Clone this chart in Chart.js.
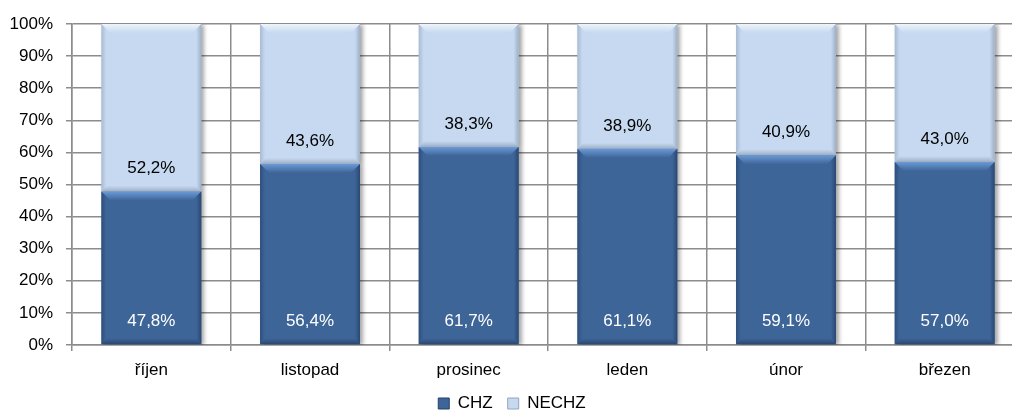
<!DOCTYPE html>
<html>
<head>
<meta charset="utf-8">
<script src="https://cdn.jsdelivr.net/npm/chart.js@4.4.1/dist/chart.umd.min.js"></script>
<style>
html,body{margin:0;padding:0;overflow:hidden;background:#fff;height:412px;}
</style>
</head>
<body>
<canvas id="graf-chz" width="1024" height="422"></canvas>
<script>
// data
const mesice = ['říjen', 'listopad', 'prosinec', 'leden', 'únor', 'březen'];
const chz = [47.8, 56.4, 61.7, 61.1, 59.1, 57.0];
const nechz = [52.2, 43.6, 38.3, 38.9, 40.9, 43.0];
const osaY = [0, 10, 20, 30, 40, 50, 60, 70, 80, 90, 100];

const FONT = '"Liberation Sans", Arial, sans-serif';
const FS = 17;

// barvy: telo, svetla hrana, tmava hrana, barva popisku
const styly = [
    {fill: '#3e6598', light: '#6b9ad6', dark: '#24406a', text: '#ffffff'},
    {fill: '#c6d9f0', light: '#eef4fb', dark: '#93a6bd', text: '#000000'}
];

function fmt(v){ return v.toFixed(1).replace('.', ',') + '%'; }

// stin + zkosene hrany sloupcu
const bevelPlugin = {
    id: 'bevel',
    beforeDatasetsDraw(chart){
        const ctx = chart.ctx;
        ctx.save();
        ctx.shadowColor = 'rgba(0,0,0,0.35)';
        ctx.shadowBlur = 4;
        ctx.shadowOffsetX = 3;
        ctx.shadowOffsetY = 1;
    },
    afterDatasetsDraw(chart){
        const ctx = chart.ctx;
        ctx.restore();
        chart.data.datasets.forEach((ds, di) => {
            const st = styly[di];
            chart.getDatasetMeta(di).data.forEach(el => {
                const w = el.width;
                const l = el.x - w / 2, r = el.x + w / 2;
                const t = Math.min(el.y, el.base), b = Math.max(el.y, el.base);
                const bv = 9;
                ctx.save();
                // horni hrana
                let g = ctx.createLinearGradient(0, t, 0, t + bv);
                g.addColorStop(0, st.light);
                g.addColorStop(1, st.fill);
                ctx.fillStyle = g;
                ctx.beginPath();
                ctx.moveTo(l, t); ctx.lineTo(r, t); ctx.lineTo(r - bv, t + bv); ctx.lineTo(l + bv, t + bv);
                ctx.closePath(); ctx.fill();
                // leva hrana
                g = ctx.createLinearGradient(l, 0, l + 5, 0);
                g.addColorStop(0, st.dark);
                g.addColorStop(1, st.fill);
                ctx.fillStyle = g;
                ctx.globalAlpha = 0.6;
                ctx.beginPath();
                ctx.moveTo(l, t); ctx.lineTo(l + 5, t + 5); ctx.lineTo(l + 5, b - 5); ctx.lineTo(l, b);
                ctx.closePath(); ctx.fill();
                // prava hrana
                g = ctx.createLinearGradient(r, 0, r - 5, 0);
                g.addColorStop(0, st.dark);
                g.addColorStop(1, st.fill);
                ctx.fillStyle = g;
                ctx.globalAlpha = 0.8;
                ctx.beginPath();
                ctx.moveTo(r, t); ctx.lineTo(r - 5, t + 5); ctx.lineTo(r - 5, b - 5); ctx.lineTo(r, b);
                ctx.closePath(); ctx.fill();
                // spodni hrana
                g = ctx.createLinearGradient(0, b, 0, b - 6);
                g.addColorStop(0, st.dark);
                g.addColorStop(1, st.fill);
                ctx.fillStyle = g;
                ctx.globalAlpha = 0.8;
                ctx.beginPath();
                ctx.moveTo(l, b); ctx.lineTo(r, b); ctx.lineTo(r - 6, b - 6); ctx.lineTo(l + 6, b - 6);
                ctx.closePath(); ctx.fill();
                ctx.restore();
            });
        });
        // popisky hodnot u paty segmentu
        ctx.save();
        ctx.font = FS + 'px ' + FONT;
        ctx.textAlign = 'center';
        ctx.textBaseline = 'middle';
        chart.data.datasets.forEach((ds, di) => {
            ctx.fillStyle = styly[di].text;
            chart.getDatasetMeta(di).data.forEach((el, i) => {
                ctx.fillText(fmt(ds.data[i]), el.x, el.base - 23);
            });
        });
        ctx.restore();
    }
};

new Chart(document.getElementById('graf-chz'), {
    type: 'bar',
    data: {
        labels: mesice,
        datasets: [
            {label: 'CHZ', data: chz, backgroundColor: styly[0].fill, borderWidth: 0},
            {label: 'NECHZ', data: nechz, backgroundColor: styly[1].fill, borderWidth: 0}
        ]
    },
    options: {
        responsive: false,
        animation: false,
        devicePixelRatio: 1,
        layout: {padding: {left: 0, top: 24, right: 0, bottom: 0}},
        datasets: {bar: {categoryPercentage: 1, barPercentage: 0.63}},
        plugins: {
            tooltip: {enabled: false},
            legend: {
                position: 'bottom',
                labels: {
                    boxWidth: 11,
                    boxHeight: 11,
                    padding: 15,
                    color: '#000',
                    font: {family: FONT, size: FS},
                    generateLabels(chart){
                        return chart.data.datasets.map((ds, i) => ({
                            text: ds.label,
                            fillStyle: styly[i].fill,
                            strokeStyle: styly[i].dark,
                            lineWidth: 1,
                            datasetIndex: i
                        }));
                    }
                }
            }
        },
        scales: {
            x: {
                stacked: true,
                afterFit(scale){ scale.height = 35; },
                grid: {color: '#8c8c8c', lineWidth: 1.5, tickLength: 6, offset: true},
                border: {color: '#8c8c8c', width: 1.5},
                ticks: {color: '#000', padding: 9, font: {family: FONT, size: FS}, maxRotation: 0}
            },
            y: {
                stacked: true,
                min: 0,
                max: 100,
                afterBuildTicks(scale){ scale.ticks = osaY.map(v => ({value: v})); },
                afterFit(scale){ scale.width = 72; },
                grid: {color: '#8c8c8c', lineWidth: 1.5, tickLength: 6},
                border: {color: '#8c8c8c', width: 1.5},
                ticks: {color: '#000', padding: 13, font: {family: FONT, size: FS}, callback: v => v + '%'}
            }
        }
    },
    plugins: [bevelPlugin]
});
</script>
</body>
</html>
